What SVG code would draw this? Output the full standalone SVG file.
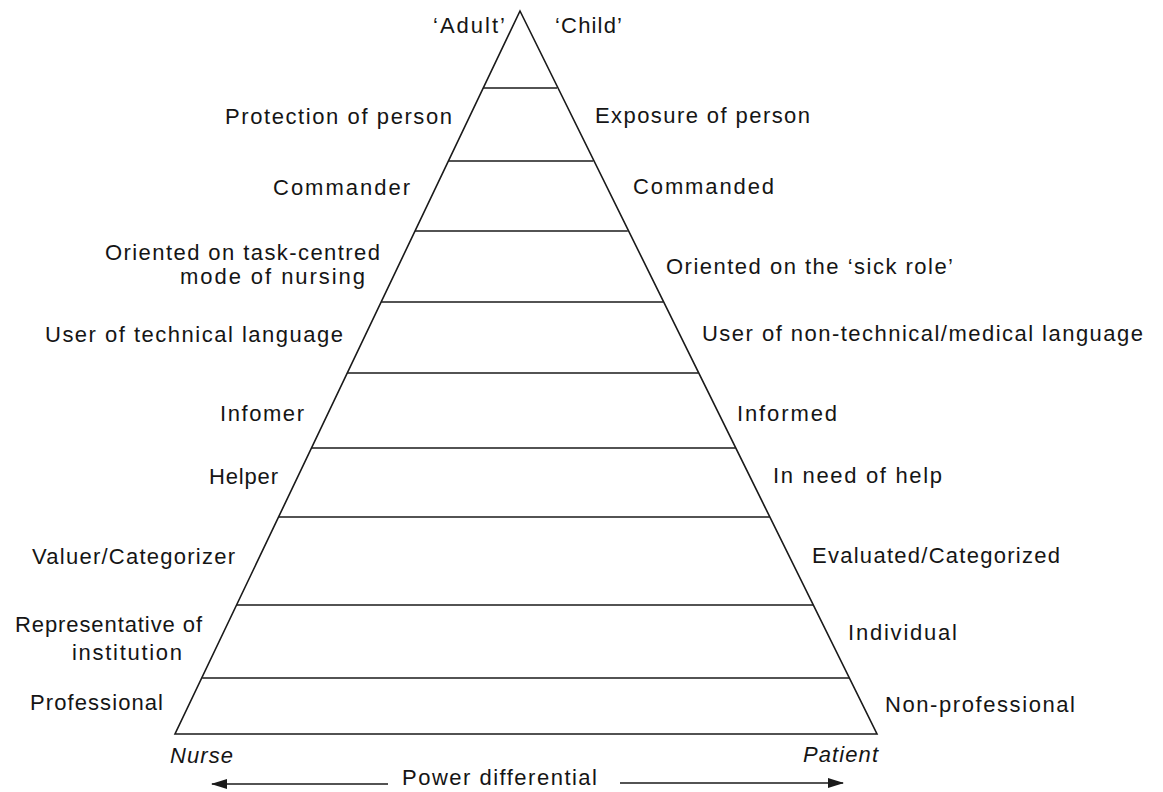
<svg xmlns="http://www.w3.org/2000/svg" width="1163" height="792" viewBox="0 0 1163 792">
<style>
  text { font-family: "Liberation Sans", Arial, sans-serif; font-size: 22px; fill: #151515; }
  .it { font-style: italic; }
  .ln { stroke: #1a1a1a; stroke-width: 1.6; fill: none; }
  .arr { stroke: #1a1a1a; stroke-width: 1.6; fill: none; }
</style>
<defs>
  <marker id="ah" viewBox="0 0 16 10" refX="15" refY="5" markerWidth="16" markerHeight="10" markerUnits="userSpaceOnUse" orient="auto-start-reverse">
    <path d="M0,0 L16,5 L0,10 Z" fill="#1a1a1a"/>
  </marker>
</defs>
<rect width="1163" height="792" fill="#ffffff"/>
<g id="pyramid">
  <polygon class="ln" points="520,11 877,734 175,734"/>
  <line class="ln" x1="483.3" y1="88" x2="557.0" y2="88"/>
  <line class="ln" x1="448.5" y1="161" x2="593.3" y2="161"/>
  <line class="ln" x1="415.1" y1="231" x2="627.8" y2="231"/>
  <line class="ln" x1="381.3" y1="302" x2="663.0" y2="302"/>
  <line class="ln" x1="347.5" y1="373" x2="698.2" y2="373"/>
  <line class="ln" x1="311.8" y1="448" x2="735.3" y2="448"/>
  <line class="ln" x1="278.9" y1="517" x2="769.6" y2="517"/>
  <line class="ln" x1="237.0" y1="605" x2="813.1" y2="605"/>
  <line class="ln" x1="202.2" y1="678" x2="849.2" y2="678"/>
</g>
<g id="left-labels">
  <g id="adult"><text x="505" y="33" text-anchor="end" textLength="72" lengthAdjust="spacing">‘Adult’</text></g>
  <g id="protection"><text x="225" y="124" textLength="227" lengthAdjust="spacing">Protection of person</text></g>
  <g id="commander"><text x="273" y="195" textLength="137" lengthAdjust="spacing">Commander</text></g>
  <g id="oriented-task">
    <text x="105" y="260" textLength="275" lengthAdjust="spacing">Oriented on task-centred</text>
    <text x="180" y="284" textLength="185" lengthAdjust="spacing">mode of nursing</text>
  </g>
  <g id="user-technical"><text x="45" y="342" textLength="298" lengthAdjust="spacing">User of technical language</text></g>
  <g id="infomer"><text x="220" y="421" textLength="84" lengthAdjust="spacing">Infomer</text></g>
  <g id="helper"><text x="209" y="484" textLength="69" lengthAdjust="spacing">Helper</text></g>
  <g id="valuer"><text x="32" y="564" textLength="203" lengthAdjust="spacing">Valuer/Categorizer</text></g>
  <g id="representative">
    <text x="15" y="632" textLength="187" lengthAdjust="spacing">Representative of</text>
    <text x="72" y="660" textLength="110" lengthAdjust="spacing">institution</text>
  </g>
  <g id="professional"><text x="30" y="710" textLength="133" lengthAdjust="spacing">Professional</text></g>
  <g id="nurse"><text class="it" x="170" y="763" textLength="63" lengthAdjust="spacing">Nurse</text></g>
</g>
<g id="right-labels">
  <g id="child"><text x="555" y="33" textLength="67" lengthAdjust="spacing">‘Child’</text></g>
  <g id="exposure"><text x="595" y="123" textLength="215" lengthAdjust="spacing">Exposure of person</text></g>
  <g id="commanded"><text x="633" y="194" textLength="141" lengthAdjust="spacing">Commanded</text></g>
  <g id="sick-role"><text x="666" y="274" textLength="287" lengthAdjust="spacing">Oriented on the ‘sick role’</text></g>
  <g id="user-nontechnical"><text x="702" y="341" textLength="441" lengthAdjust="spacing">User of non-technical/medical language</text></g>
  <g id="informed"><text x="737" y="421" textLength="100" lengthAdjust="spacing">Informed</text></g>
  <g id="need-help"><text x="773" y="483" textLength="169" lengthAdjust="spacing">In need of help</text></g>
  <g id="evaluated"><text x="812" y="563" textLength="248" lengthAdjust="spacing">Evaluated/Categorized</text></g>
  <g id="individual"><text x="848" y="640" textLength="109" lengthAdjust="spacing">Individual</text></g>
  <g id="nonprofessional"><text x="885" y="712" textLength="190" lengthAdjust="spacing">Non-professional</text></g>
  <g id="patient"><text class="it" x="803" y="762" textLength="75" lengthAdjust="spacing">Patient</text></g>
</g>
<g id="power">
  <text x="402" y="785" textLength="195" lengthAdjust="spacing">Power differential</text>
</g>
<g id="connectors">
  <line class="arr" x1="388" y1="784" x2="212" y2="784" marker-end="url(#ah)"/>
  <line class="arr" x1="620" y1="783" x2="843" y2="783" marker-end="url(#ah)"/>
</g>
</svg>
